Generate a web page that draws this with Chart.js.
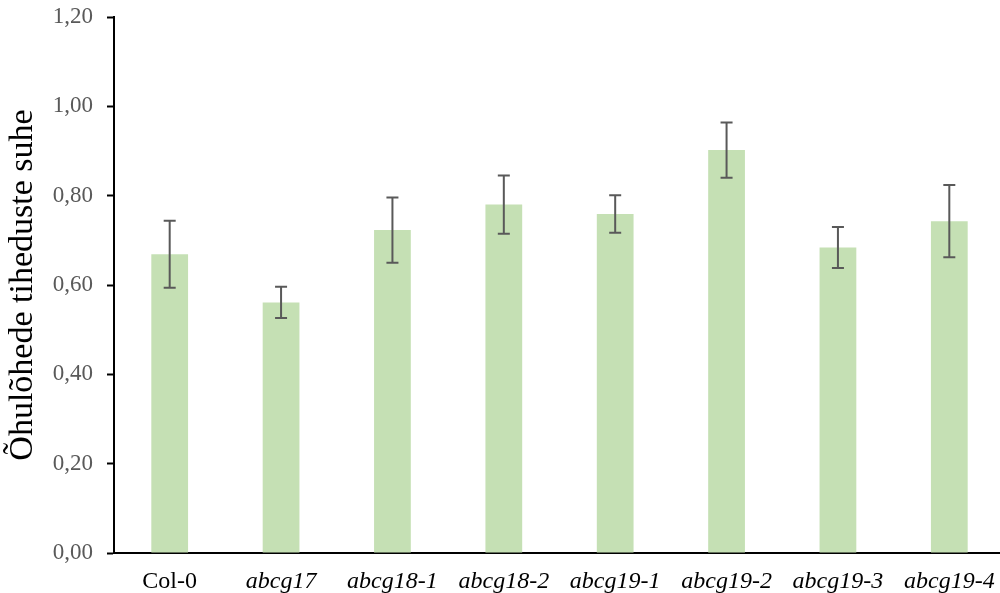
<!DOCTYPE html>
<html>
<head>
<meta charset="utf-8">
<script src="https://cdn.jsdelivr.net/npm/chart.js@4/dist/chart.umd.min.js"></script>
<style>
  html, body { margin: 0; padding: 0; background: #fff; overflow: hidden; }
  #wrap { width: 1005px; height: 593px; position: relative; }
</style>
</head>
<body>
<div id="wrap"><canvas id="ratioChart"></canvas></div>
<script>
const categories = ["Col-0", "abcg17", "abcg18-1", "abcg18-2", "abcg19-1", "abcg19-2", "abcg19-3", "abcg19-4"];
const ratios = [0.669, 0.561, 0.723, 0.780, 0.759, 0.902, 0.684, 0.743];
const errors = [0.075, 0.035, 0.073, 0.065, 0.042, 0.062, 0.046, 0.081];
const yTicks = [0, 0.2, 0.4, 0.6, 0.8, 1.0, 1.2];

const serif = "'Liberation Serif', 'Times New Roman', serif";

// error bars drawn from the y scale
const errorBars = {
  id: "errorBars",
  afterDatasetsDraw(chart) {
    const ctx = chart.ctx;
    const y = chart.scales.y;
    const meta = chart.getDatasetMeta(0);
    ctx.save();
    ctx.strokeStyle = "#595959";
    ctx.lineWidth = 2;
    meta.data.forEach((bar, i) => {
      const top = y.getPixelForValue(ratios[i] + errors[i]);
      const bottom = y.getPixelForValue(ratios[i] - errors[i]);
      ctx.beginPath();
      ctx.moveTo(bar.x, top);
      ctx.lineTo(bar.x, bottom);
      ctx.moveTo(bar.x - 6, top);
      ctx.lineTo(bar.x + 6, top);
      ctx.moveTo(bar.x - 6, bottom);
      ctx.lineTo(bar.x + 6, bottom);
      ctx.stroke();
    });
    ctx.restore();
  },
};

new Chart(document.getElementById("ratioChart"), {
  type: "bar",
  data: {
    labels: categories,
    datasets: [
      {
        data: ratios,
        backgroundColor: "#c5e0b4",
        barPercentage: 0.33,
        categoryPercentage: 1,
      },
    ],
  },
  options: {
    responsive: true,
    maintainAspectRatio: false,
    animation: false,
    layout: { padding: 0 },
    plugins: {
      legend: { display: false },
      tooltip: { enabled: false },
    },
    scales: {
      x: {
        afterFit: (s) => {
          s.height = 40;
          s.paddingLeft = 0;
          s.paddingRight = 0;
        },
        grid: { display: false, drawTicks: false },
        border: { color: "#000", width: 2 },
        ticks: {
          color: "#000",
          padding: 14,
          maxRotation: 0,
          autoSkip: false,
          font: (c) => ({
            family: serif,
            size: 24,
            style: c.index === 0 ? "normal" : "italic",
          }),
        },
      },
      y: {
        min: 0,
        max: 1.2,
        afterBuildTicks: (s) => {
          s.ticks = yTicks.map((v) => ({ value: v }));
        },
        afterFit: (s) => {
          s.width = 114;
          s.paddingTop = 17;
          s.paddingBottom = 0;
        },
        grid: { drawOnChartArea: false, tickLength: 7, color: "#000", tickWidth: 2 },
        border: { color: "#000", width: 2 },
        ticks: {
          color: "#595959",
          padding: 14,
          font: { family: serif, size: 23 },
          callback: (v) => v.toFixed(2).replace(".", ","),
        },
        title: {
          display: true,
          text: "Õhulõhede tiheduste suhe",
          color: "#000",
          font: { family: serif, size: 34 },
          padding: { top: 3, bottom: 0 },
        },
      },
    },
  },
  plugins: [errorBars],
});
</script>
</body>
</html>
